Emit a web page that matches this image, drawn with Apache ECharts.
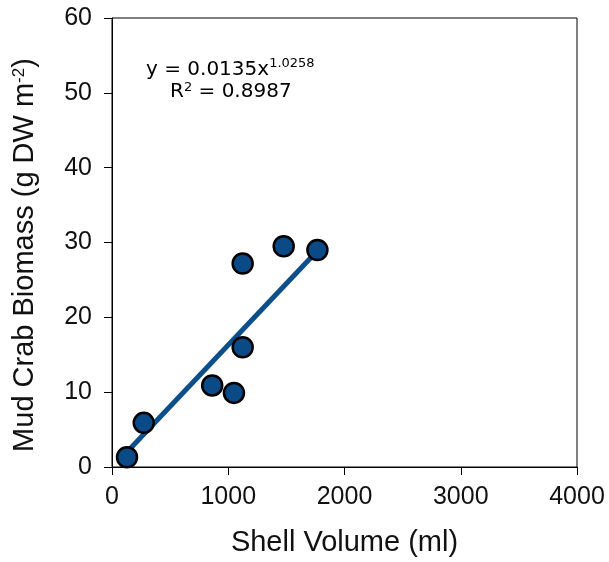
<!DOCTYPE html>
<html><head><meta charset="utf-8">
<script src="https://cdn.jsdelivr.net/npm/echarts@6/dist/echarts.min.js"></script>
<style>html,body{margin:0;padding:0;background:#fff}#c{width:609px;height:562px}</style>
</head><body><div id="c"></div>
<script>
const shellVolume = [129, 273, 862, 1049, 1124, 1124, 1477, 1767];
const biomass = [1.3, 5.9, 10.9, 9.9, 16.0, 27.2, 29.5, 29.0];
const trendX = [129, 1767];
const trendY = [2.0, 28.9];
const xTicks = [0, 1000, 2000, 3000, 4000];
const yTicks = [0, 10, 20, 30, 40, 50, 60];

const chart = echarts.init(document.getElementById('c'));
const pts = shellVolume.map((v, i) => [v, biomass[i]]);
const trend = trendX.map((v, i) => [v, trendY[i]]);
const labelFont = {fontFamily: 'Liberation Sans', fontSize: 25, color: '#111'};
chart.setOption({
  animation: false,
  grid: {left: 112, top: 18, right: 32, bottom: 94, show: true, borderColor: '#000', borderWidth: 1},
  xAxis: {
    type: 'value', min: xTicks[0], max: xTicks[xTicks.length-1], interval: 1000,
    splitLine: {show: false},
    axisLine: {lineStyle: {color: '#000', width: 1}},
    axisTick: {show: true, length: 8, lineStyle: {color: '#000'}},
    axisLabel: Object.assign({margin: 18, formatter: v => String(v)}, labelFont),
    name: 'Shell Volume (ml)', nameLocation: 'middle', nameGap: 61,
    nameTextStyle: {fontFamily: 'Liberation Sans', fontSize: 29, color: '#111'}
  },
  yAxis: {
    type: 'value', min: yTicks[0], max: yTicks[yTicks.length-1], interval: 10,
    splitLine: {show: false},
    axisLine: {lineStyle: {color: '#000', width: 1}},
    axisTick: {show: true, length: 8, lineStyle: {color: '#000'}},
    axisLabel: Object.assign({margin: 20, formatter: v => String(v)}, labelFont)
  },
  series: [
    {type: 'line', data: trend, symbol: 'none', lineStyle: {color: '#0d4f8b', width: 5}, z: 2},
    {type: 'scatter', data: pts, symbol: 'circle', symbolSize: 20,
      itemStyle: {color: '#0a4a86', borderColor: '#000', borderWidth: 2.5, opacity: 1}, z: 3}
  ],
  graphic: [
    {type: 'text', x: 25, y: 255, rotation: Math.PI / 2, style: {
      text: 'Mud Crab Biomass (g DW m{sup|-2})', fill: '#111', font: '29px Liberation Sans',
      align: 'center', verticalAlign: 'middle',
      rich: {sup: {font: '17px Liberation Sans', fill: '#111', padding: [0,0,12,0]}}
    }},
    {type: 'text', x: 146, y: 57, style: {
      text: 'y = 0.0135x{sup|1.0258}', fill: '#000',
      font: '20px DejaVu Sans',
      rich: {sup: {font: '13px DejaVu Sans', fill: '#000', padding: [0,0,12,0]}}
    }},
    {type: 'text', x: 170, y: 81, style: {
      text: 'R{s|2} = 0.8987', fill: '#000', font: '20px DejaVu Sans',
      rich: {s: {font: '13px DejaVu Sans', fill: '#000', padding: [0,0,8,0]}}
    }}
  ]
});
</script></body></html>
